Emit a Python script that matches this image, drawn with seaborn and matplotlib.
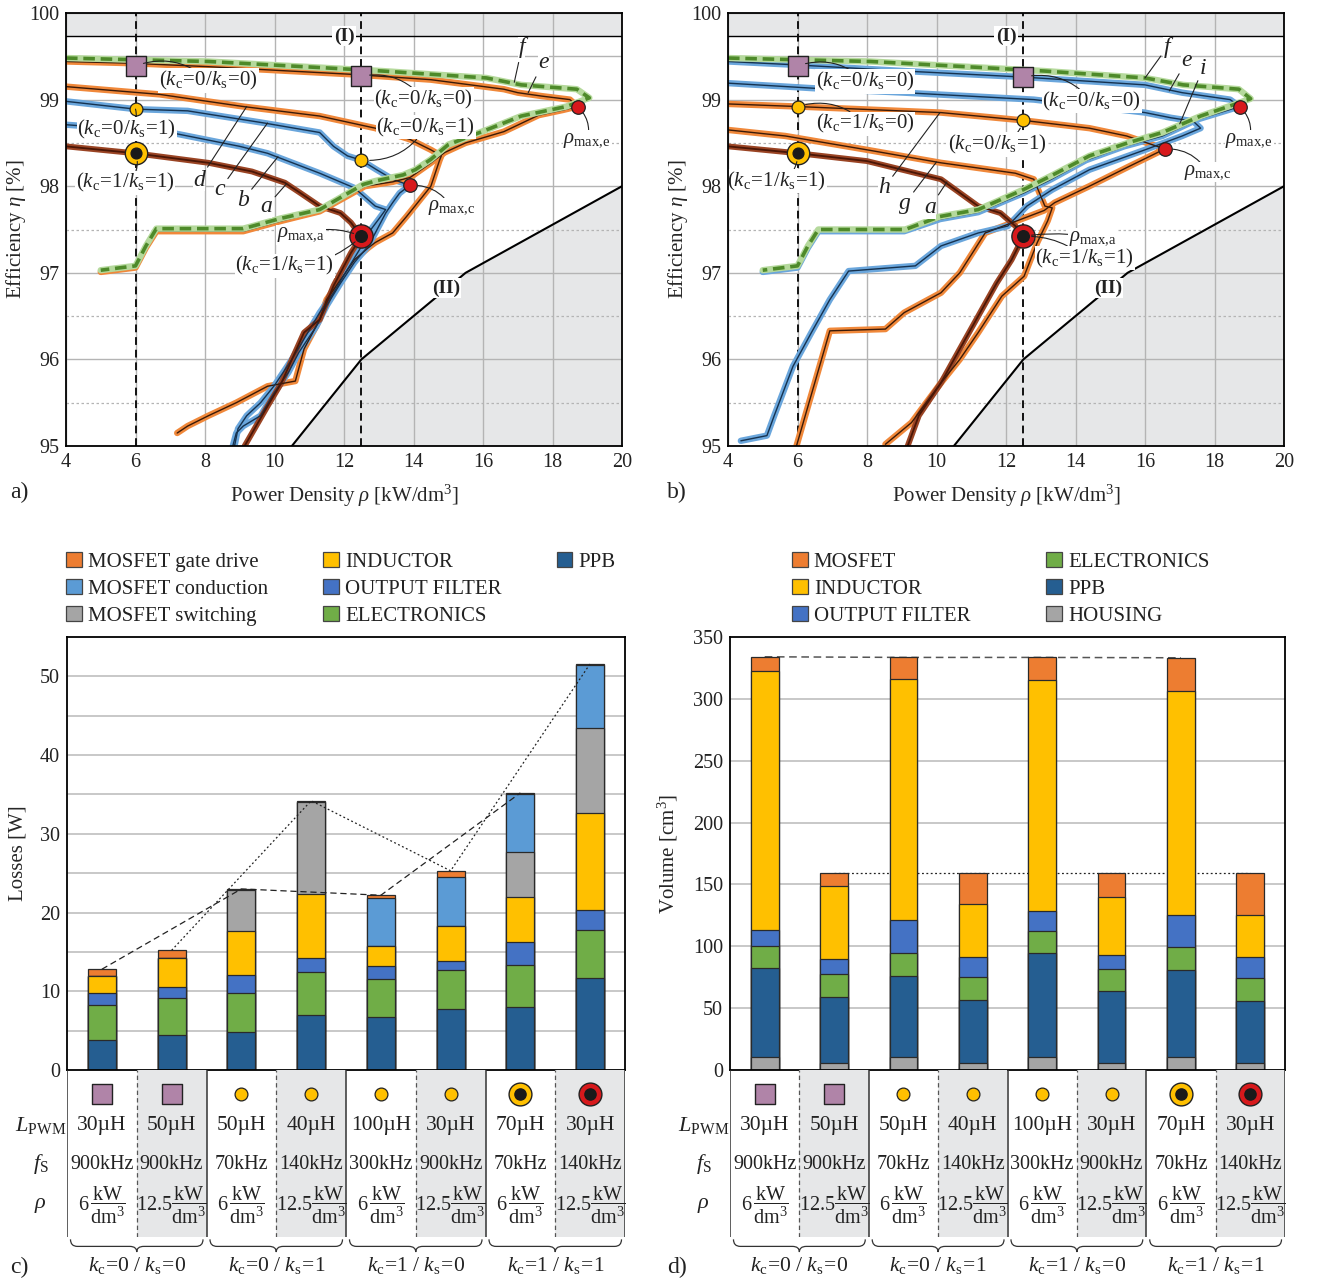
import numpy as np
import pandas as pd
import matplotlib
matplotlib.use("Agg")
import matplotlib.pyplot as plt
import seaborn as sns
from matplotlib.patches import Patch, Polygon, PathPatch
from matplotlib.path import Path

# ---------------------------------------------------------------- data
# Pareto fronts, panel a): power density rho [kW/dm^3] vs efficiency eta [%]
a_f_rho = [4.0, 6.0, 8.1, 11.3, 13.1, 16.1, 17.1, 18.7, 19.06, 18.4, 17.1, 16.1, 15.0, 14.5, 14.05, 13.7, 12.9, 12.55, 11.3, 10.2, 9.1, 6.6, 6.3, 6.0, 5.0]
a_f_eta = [99.48, 99.46, 99.44, 99.37, 99.33, 99.25, 99.17, 99.12, 99.02, 98.92, 98.81, 98.65, 98.48, 98.31, 98.19, 98.13, 98.06, 98.02, 97.73, 97.63, 97.51, 97.51, 97.31, 97.08, 97.03]
a_e_rho = [4.0, 5.9, 8.1, 12.3, 14.5, 16.6, 17.0, 17.7, 18.5, 18.72, 18.3, 17.6, 16.6, 15.5, 14.9, 14.5, 13.9, 13.4, 12.6, 11.3, 10.2, 9.1, 6.6, 6.3, 6.0, 5.0]
a_e_eta = [99.44, 99.42, 99.38, 99.29, 99.23, 99.12, 99.08, 99.04, 99.0, 98.92, 98.88, 98.82, 98.63, 98.5, 98.39, 98.27, 98.1, 98.05, 98.0, 97.71, 97.6, 97.48, 97.48, 97.29, 97.06, 97.01]
a_d_rho = [4.0, 6.7, 9.1, 11.3, 12.9, 13.9, 14.5, 14.8, 14.75, 14.5, 14.2, 13.8, 13.4, 12.9, 12.7, 12.3, 11.5, 11.3, 10.85, 10.6, 9.8, 8.9, 8.1, 7.5, 7.2]
a_d_eta = [99.15, 99.06, 98.92, 98.81, 98.67, 98.54, 98.42, 98.35, 98.3, 98.0, 97.85, 97.65, 97.46, 97.35, 97.29, 97.15, 96.69, 96.46, 96.12, 95.75, 95.69, 95.5, 95.35, 95.23, 95.15]
a_c_rho = [4.0, 6.0, 7.5, 9.7, 11.3, 11.7, 12.1, 12.5, 12.9, 13.4, 13.89, 13.6, 13.4, 13.2, 12.9, 12.7, 12.3, 11.9, 11.5, 11.2, 10.7, 10.4, 10.0, 9.6, 9.1, 8.9, 8.8]
a_c_eta = [98.98, 98.89, 98.87, 98.73, 98.62, 98.46, 98.35, 98.30, 98.2, 98.08, 98.01, 97.92, 97.81, 97.69, 97.46, 97.31, 97.12, 96.88, 96.62, 96.38, 96.08, 95.85, 95.62, 95.35, 95.23, 95.15, 95.0]
a_b_rho = [4.0, 7.0, 9.0, 9.8, 11.3, 12.3, 12.9, 13.2, 13.0, 12.7, 12.45, 12.1, 11.7, 11.3, 10.9, 10.5, 10.0, 9.6, 9.2, 8.95, 8.85]
a_b_eta = [98.71, 98.62, 98.46, 98.38, 98.15, 97.98, 97.77, 97.73, 97.62, 97.46, 97.27, 97.04, 96.77, 96.54, 96.27, 96.0, 95.7, 95.5, 95.35, 95.2, 95.0]
a_a_rho = [4.0, 6.0, 8.1, 9.35, 10.3, 10.75, 11.3, 11.9, 12.2, 12.5, 12.2, 11.7, 11.3, 10.85, 10.2, 9.8, 9.14]
a_a_eta = [98.46, 98.38, 98.27, 98.17, 98.04, 97.92, 97.77, 97.69, 97.58, 97.42, 97.23, 96.85, 96.46, 96.31, 95.73, 95.46, 95.0]

# Pareto fronts, panel b)
b_f_rho = [4.0, 6.0, 8.1, 11.3, 13.1, 16.0, 17.1, 18.7, 19.04, 18.4, 17.6, 16.5, 15.5, 14.4, 13.3, 12.5, 11.2, 10.1, 9.1, 6.6, 6.3, 6.0, 5.0]
b_f_eta = [99.48, 99.46, 99.44, 99.37, 99.33, 99.25, 99.17, 99.12, 99.01, 98.92, 98.81, 98.62, 98.5, 98.35, 98.12, 97.96, 97.73, 97.65, 97.5, 97.5, 97.31, 97.08, 97.03]
b_e_rho = [4.0, 6.0, 9.07, 12.5, 16.0, 17.07, 18.45, 18.72, 18.4, 17.5, 16.5, 15.4, 14.3, 13.3, 12.5, 11.2, 10.1, 9.07, 6.6, 6.3, 6.0, 5.0]
b_e_eta = [99.44, 99.40, 99.33, 99.26, 99.17, 99.08, 99.0, 98.92, 98.88, 98.77, 98.58, 98.46, 98.3, 98.08, 97.92, 97.7, 97.62, 97.48, 97.48, 97.29, 97.06, 97.01]
b_i_rho = [4.0, 6.93, 9.07, 12.8, 16.0, 16.75, 17.39, 17.6, 17.07, 16.0, 14.4, 13.33, 12.6, 12.05, 11.2, 10.13, 9.39, 7.47, 6.93, 6.4, 5.87, 5.33, 5.12, 4.37]
b_i_eta = [99.19, 99.12, 99.08, 99.0, 98.85, 98.79, 98.75, 98.67, 98.58, 98.42, 98.19, 97.96, 97.77, 97.54, 97.46, 97.31, 97.08, 97.02, 96.69, 96.31, 95.92, 95.35, 95.12, 95.06]
b_h_rho = [4.0, 6.0, 10.13, 12.5, 14.4, 15.47, 16.57, 15.5, 14.4, 13.4, 13.1, 11.4, 11.1, 10.67, 10.13, 9.07, 8.53, 6.93, 5.97]
b_h_eta = [98.95, 98.92, 98.85, 98.76, 98.67, 98.58, 98.43, 98.22, 98.0, 97.81, 97.72, 97.46, 97.27, 97.0, 96.77, 96.54, 96.35, 96.33, 95.0]
b_g_rho = [4.0, 5.65, 8.0, 10.13, 12.27, 12.8, 13.12, 13.33, 13.2, 12.9, 12.52, 11.88, 11.2, 10.67, 10.13, 9.28, 8.53]
b_g_eta = [98.65, 98.58, 98.42, 98.27, 98.15, 98.08, 97.77, 97.75, 97.6, 97.35, 96.96, 96.73, 96.31, 96.0, 95.73, 95.27, 95.02]
b_a_rho = [4.0, 6.03, 8.0, 10.13, 11.2, 11.84, 12.27, 12.5, 12.16, 11.73, 11.2, 10.67, 10.13, 9.49, 9.17]
b_a_eta = [98.46, 98.38, 98.29, 98.08, 97.77, 97.69, 97.54, 97.42, 97.15, 96.88, 96.5, 96.12, 95.73, 95.35, 95.0]

# infeasible region (II) boundary
lim_rho = [10.5, 12.5, 15.5, 20.0]
lim_eta = [95.0, 96.0, 97.0, 98.0]
eta_limit_I = 99.73

# selected design points (rho, eta)
a_pts = {"sq": [(6.0, 99.39), (12.5, 99.27)], "yc": [(6.0, 98.89), (12.5, 98.30)],
         "yring": (6.0, 98.38), "rring": (12.5, 97.42), "rd": [(13.89, 98.01), (18.72, 98.92)]}
b_pts = {"sq": [(6.0, 99.39), (12.5, 99.26)], "yc": [(6.0, 98.92), (12.5, 98.76)],
         "yring": (6.0, 98.38), "rring": (12.5, 97.42), "rd": [(16.57, 98.43), (18.72, 98.92)]}

# losses [W] per design (8 designs)
loss_labels = ["MOSFET gate drive", "MOSFET conduction", "MOSFET switching",
               "INDUCTOR", "OUTPUT FILTER", "ELECTRONICS", "PPB"]
loss_gate = [0.9, 1.0, 0.1, 0.2, 0.3, 0.8, 0.1, 0.2]
loss_cond = [0.0, 0.0, 0.0, 0.0, 6.1, 6.2, 7.4, 7.9]
loss_sw = [0.0, 0.0, 5.3, 11.7, 0.0, 0.0, 5.7, 10.9]
loss_ind = [2.1, 3.7, 5.5, 8.1, 2.6, 4.4, 5.8, 12.3]
loss_of = [1.5, 1.4, 2.3, 1.7, 1.7, 1.15, 2.8, 2.5]
loss_el = [4.5, 4.6, 5.0, 5.5, 4.8, 4.95, 5.4, 6.1]
loss_ppb = [3.8, 4.5, 4.8, 7.0, 6.7, 7.8, 8.0, 11.7]

# volumes [cm^3] per design
vol_labels = ["MOSFET", "INDUCTOR", "OUTPUT FILTER", "ELECTRONICS", "PPB", "HOUSING"]
vol_mos = [11.4, 11.1, 17.3, 25.6, 18.4, 19.5, 26.7, 34.6]
vol_ind = [209.1, 58.6, 195.2, 42.4, 186.8, 47.1, 181.6, 33.4]
vol_of = [13.1, 12.3, 26.2, 16.2, 15.6, 10.9, 25.3, 16.8]
vol_el = [17.9, 18.4, 18.7, 19.0, 18.4, 18.4, 19.0, 19.2]
vol_ppb = [71.9, 53.5, 65.5, 50.7, 83.7, 58.0, 70.0, 49.9]
vol_hous = [10.6, 5.6, 10.6, 5.6, 10.6, 5.6, 10.6, 5.6]

# design table
design_marker = ["sq", "sq", "yc", "yc", "yc", "yc", "yring", "rring"]
L_pwm = ["30µH", "50µH", "50µH", "40µH", "100µH", "30µH", "70µH", "30µH"]
f_sw = ["900kHz", "900kHz", "70kHz", "140kHz", "300kHz", "900kHz", "70kHz", "140kHz"]
rho_design = ["6", "12.5", "6", "12.5", "6", "12.5", "6", "12.5"]
groups = [("0", "0"), ("0", "1"), ("1", "0"), ("1", "1")]

# ---------------------------------------------------------------- style
sns.set_theme(style="white")
plt.rcParams.update({
    "font.family": ["Liberation Serif", "DejaVu Serif"],
    "mathtext.fontset": "custom",
    "mathtext.rm": "Liberation Serif",
    "mathtext.it": "Liberation Serif:italic",
    "mathtext.bf": "Liberation Serif:bold",
    "axes.edgecolor": "black",
    "axes.linewidth": 1.3,
    "text.color": "#222222",
    "xtick.color": "#222222",
    "ytick.color": "#222222",
})

C_OR = "#ED7D31"; C_YE = "#FFC000"; C_BL = "#4472C4"; C_GR = "#70AD47"
C_DB = "#255E91"; C_LB = "#5B9BD5"; C_GY = "#A5A5A5"
C_SQ = "#B084A8"; C_RED = "#D7191C"; C_SHADE = "#E6E7E8"
TXT = 15

W, H = 1319, 1284
fig = plt.figure(figsize=(W / 100, H / 100), dpi=100)


def rect(l, t, r, b):
    return [l / W, 1 - b / H, (r - l) / W, (b - t) / H]


ax_a = fig.add_axes(rect(66, 13, 622, 446))
ax_b = fig.add_axes(rect(728, 13, 1284, 446))
ax_c = fig.add_axes(rect(67, 637, 625, 1070))
ax_d = fig.add_axes(rect(730, 637, 1285, 1070))
tab_c = fig.add_axes(rect(67, 1070, 625, 1237))
tab_d = fig.add_axes(rect(730, 1070, 1285, 1237))
brc_c = fig.add_axes(rect(67, 1237, 625, 1284))
brc_d = fig.add_axes(rect(730, 1237, 1285, 1284))

STYLES = {
    "orange": ("#F0883A", "#3A1A08", 4.6, 1.0),
    "blue": ("#6AA6DC", "#16324F", 4.6, 1.0),
    "brown": ("#9A4424", "#4A1606", 4.2, 1.3),
}


def front(ax, rho, eta, kind, z=3):
    df = pd.DataFrame({"rho": rho, "eta": eta})
    if kind == "green":
        sns.lineplot(data=df, x="rho", y="eta", sort=False, estimator=None, ax=ax,
                     color="#B5D99C", lw=4.6, zorder=z)
        sns.lineplot(data=df, x="rho", y="eta", sort=False, estimator=None, ax=ax,
                     color="#4E8A2A", lw=2.6, linestyle=(0, (3.2, 1.6)), zorder=z + 0.1)
        return
    halo, core, lw, lwc = STYLES[kind]
    sns.lineplot(data=df, x="rho", y="eta", sort=False, estimator=None, ax=ax,
                 color=halo, lw=lw, zorder=z)
    sns.lineplot(data=df, x="rho", y="eta", sort=False, estimator=None, ax=ax,
                 color=core, lw=lwc, zorder=z + 0.1)


def eff_axes(ax):
    ax.set_xlim(4, 20)
    ax.set_ylim(95, 100)
    ax.set_xticks(range(4, 21, 2))
    ax.set_yticks(range(95, 101))
    ax.set_axisbelow(True)
    ax.grid(which="major", color="#B4B4B4", lw=1.0)
    for yv in [95.5, 96.5, 97.5, 98.5]:
        ax.axhline(yv, color="#B4B4B4", lw=0.9, ls=(0, (2, 2)), zorder=0.5)
    ax.axhline(99.5, color="#B4B4B4", lw=1.0, zorder=0.5)
    ax.tick_params(length=0, labelsize=14.5, pad=5)
    ax.axhspan(eta_limit_I, 100, color=C_SHADE, zorder=0.3, lw=0)
    ax.axhline(eta_limit_I, color="black", lw=1.0, zorder=1)
    poly = list(zip(lim_rho, lim_eta)) + [(20, 95)]
    ax.add_patch(Polygon(poly, closed=True, fc=C_SHADE, ec="none", zorder=0.3))
    ax.plot(lim_rho, lim_eta, color="black", lw=1.5, zorder=1.2)
    for xv in (6, 12.5):
        ax.axvline(xv, color="#111111", lw=1.4, ls=(0, (4, 2.5)), zorder=2)
    ax.set_xlabel(r"Power Density $\rho$ [kW/dm$^3$]", fontsize=TXT, labelpad=8)
    ax.set_ylabel(r"Efficiency $\eta$ [%]", fontsize=TXT)
    ax.yaxis.set_label_coords(-0.068, 0.5)
    for s in ax.spines.values():
        s.set_color("black")
        s.set_linewidth(1.3)
        s.set_zorder(10)
    ax.text(12.0, eta_limit_I, "(I)", fontsize=14, fontweight="bold", ha="center", va="center",
            bbox=dict(fc="white", ec="none", pad=1.0), zorder=4)
    ax.text(14.93, 96.82, "(II)", fontsize=14, fontweight="bold", ha="center", va="center",
            bbox=dict(fc="white", ec="none", pad=1.0), zorder=4)


def points(ax, p):
    for x, y in p["sq"]:
        ax.scatter([x], [y], s=190, marker="s", c=C_SQ, edgecolors="#222", linewidths=1.0, zorder=6)
    for x, y in p["yc"]:
        ax.scatter([x], [y], s=85, marker="o", c=C_YE, edgecolors="#222", linewidths=0.9, zorder=6)
    for x, y in p["rd"]:
        ax.scatter([x], [y], s=95, marker="o", c=C_RED, edgecolors="#222", linewidths=0.9, zorder=6)
    x, y = p["yring"]
    ax.scatter([x], [y], s=260, marker="o", c=C_YE, edgecolors="#222", linewidths=1.0, zorder=6)
    ax.scatter([x], [y], s=60, marker="o", c="#1a1a1a", zorder=7)
    x, y = p["rring"]
    ax.scatter([x], [y], s=280, marker="o", c=C_RED, edgecolors="#222", linewidths=1.0, zorder=6)
    ax.scatter([x], [y], s=70, marker="o", c="#1a1a1a", zorder=7)


def kk(c, s):
    return r"$(k_{\rm c}\!=\!%s/k_{\rm s}\!=\!%s)$" % (c, s)


def rmax(s):
    return r"$\rho_{\rm max,\!%s}$" % s


def note(ax, txt, xy, xyt, rad=0.3, fs=TXT):
    ax.annotate(txt, xy=xy, xytext=xyt, fontsize=fs, ha="center", va="center", zorder=8,
                bbox=dict(fc="white", ec="none", pad=0.5),
                arrowprops=dict(arrowstyle="-", color="#222", lw=0.8, shrinkA=0, shrinkB=6,
                                connectionstyle="arc3,rad=%s" % rad))


def letter(ax, ch, xy, xyt):
    ax.annotate(ch, xy=xy, xytext=xyt, fontsize=17, style="italic", ha="center", va="center",
                zorder=8, bbox=dict(fc="white", ec="none", pad=0.2),
                arrowprops=dict(arrowstyle="-", color="#222", lw=0.8, shrinkA=3, shrinkB=0))


# ---------------------------------------------------------------- a)
eff_axes(ax_a)
front(ax_a, a_d_rho, a_d_eta, "orange")
front(ax_a, a_b_rho, a_b_eta, "blue")
front(ax_a, a_c_rho, a_c_eta, "blue")
front(ax_a, a_a_rho, a_a_eta, "brown")
front(ax_a, a_e_rho, a_e_eta, "orange")
front(ax_a, a_f_rho, a_f_eta, "green", z=3.5)
points(ax_a, a_pts)
note(ax_a, kk(0, 0), (6.0, 99.39), (8.1, 99.22), rad=0.3)
note(ax_a, kk(0, 0), (12.5, 99.27), (14.3, 99.0), rad=0.3)
note(ax_a, kk(0, 1), (6.0, 98.89), (5.75, 98.66), rad=0.4)
note(ax_a, kk(0, 1), (12.5, 98.30), (14.35, 98.68), rad=-0.3)
note(ax_a, kk(1, 1), (6.0, 98.38), (5.7, 98.04), rad=0.4)
note(ax_a, kk(1, 1), (12.5, 97.42), (10.3, 97.08), rad=0.2)
note(ax_a, rmax("a"), (12.5, 97.42), (10.76, 97.44), rad=-0.2)
note(ax_a, rmax("c"), (13.89, 98.01), (15.1, 97.75), rad=0.3)
note(ax_a, rmax("e"), (18.72, 98.92), (19.0, 98.53), rad=0.3)
letter(ax_a, "f", (16.9, 99.2), (17.12, 99.6))
letter(ax_a, "e", (17.3, 99.08), (17.73, 99.43))
letter(ax_a, "d", (9.2, 98.92), (7.83, 98.07))
letter(ax_a, "c", (9.8, 98.73), (8.43, 97.96))
letter(ax_a, "b", (10.1, 98.34), (9.09, 97.84))
letter(ax_a, "a", (10.35, 98.03), (9.76, 97.76))
fig.text(10 / W, 1 - 492 / H, "a)", fontsize=17, va="center")

# ---------------------------------------------------------------- b)
eff_axes(ax_b)
front(ax_b, b_g_rho, b_g_eta, "orange")
front(ax_b, b_h_rho, b_h_eta, "orange")
front(ax_b, b_i_rho, b_i_eta, "blue")
front(ax_b, b_a_rho, b_a_eta, "brown")
front(ax_b, b_e_rho, b_e_eta, "blue")
front(ax_b, b_f_rho, b_f_eta, "green", z=3.5)
points(ax_b, b_pts)
note(ax_b, kk(0, 0), (6.0, 99.39), (7.95, 99.21), rad=0.3)
note(ax_b, kk(0, 0), (12.5, 99.26), (14.47, 98.98), rad=0.3)
note(ax_b, kk(1, 0), (6.0, 98.92), (7.95, 98.72), rad=0.3)
note(ax_b, kk(0, 1), (12.5, 98.76), (11.75, 98.48), rad=0.3)
note(ax_b, kk(1, 1), (6.0, 98.38), (5.4, 98.06), rad=0.4)
note(ax_b, kk(1, 1), (12.5, 97.42), (14.27, 97.17), rad=0.2)
note(ax_b, rmax("a"), (12.5, 97.42), (14.5, 97.4), rad=0.1)
note(ax_b, rmax("c"), (16.57, 98.43), (17.8, 98.16), rad=0.3)
note(ax_b, rmax("e"), (18.72, 98.92), (19.0, 98.53), rad=0.3)
letter(ax_b, "f", (16.0, 99.25), (16.63, 99.6))
letter(ax_b, "e", (16.7, 99.1), (17.2, 99.45))
letter(ax_b, "i", (17.0, 98.72), (17.67, 99.36))
letter(ax_b, "h", (10.1, 98.85), (8.49, 97.98))
letter(ax_b, "g", (10.0, 98.28), (9.09, 97.8))
letter(ax_b, "a", (10.3, 98.05), (9.81, 97.75))
fig.text(667 / W, 1 - 492 / H, "b)", fontsize=17, va="center")

# ---------------------------------------------------------------- stacked bars
pos = np.arange(8)


def stacked(ax, comps, width=0.4):
    cum = np.zeros(len(pos))
    tops = []
    for vals, col in comps:
        cum = cum + np.asarray(vals, dtype=float)
        tops.append((cum.copy(), col))
    for top, col in reversed(tops):
        sns.barplot(x=pos, y=top, color=col, width=width, saturation=1, errorbar=None,
                    edgecolor="#2a2a2a", linewidth=0.9, ax=ax, zorder=3)
    return cum


def bar_axes(ax, ymax, step, minor, label, lx):
    ax.set_xlim(-0.5, 7.5)
    ax.set_ylim(0, ymax)
    ax.set_yticks(np.arange(0, ymax + 0.1, step))
    for yv in np.arange(minor, ymax, minor):
        ax.axhline(yv, color="#C4C4C4", lw=1.3, zorder=0.5)
    ax.set_xticks([])
    ax.set_xlabel("")
    ax.set_ylabel(label, fontsize=TXT)
    ax.yaxis.set_label_coords(lx, 0.5)
    ax.tick_params(axis="y", length=0, labelsize=14.5, pad=5)
    for s in ax.spines.values():
        s.set_color("black")
        s.set_linewidth(1.3)
        s.set_zorder(10)


tot_c = stacked(ax_c, [(loss_ppb, C_DB), (loss_el, C_GR), (loss_of, C_BL), (loss_ind, C_YE),
                       (loss_sw, C_GY), (loss_cond, C_LB), (loss_gate, C_OR)])
bar_axes(ax_c, 55, 10, 5, "Losses [W]", -0.07)
ax_c.plot(pos[0::2], tot_c[0::2], color="#222", lw=0.9, ls=(0, (5, 3)), zorder=5)
ax_c.plot(pos[1::2], tot_c[1::2], color="#222", lw=0.9, ls=(0, (1.5, 2)), zorder=5)

tot_d = stacked(ax_d, [(vol_hous, C_GY), (vol_ppb, C_DB), (vol_el, C_GR), (vol_of, C_BL),
                       (vol_ind, C_YE), (vol_mos, C_OR)])
bar_axes(ax_d, 350, 50, 50, r"Volume [cm$^3$]", -0.09)
ax_d.plot(pos[0::2], tot_d[0::2], color="#555", lw=1.1, ls=(0, (5, 3)), zorder=2)
ax_d.plot(pos[1::2], tot_d[1::2], color="#222", lw=0.9, ls=(0, (1.5, 2)), zorder=2)

# legends
leg_kw = dict(loc="upper left", frameon=False, handlelength=0.75, handleheight=0.75,
              handletextpad=0.3, labelspacing=0.34, borderaxespad=0, borderpad=0,
              fontsize=TXT)
h_c = [Patch(fc=c, ec="#444", lw=0.9) for c in [C_OR, C_LB, C_GY, C_YE, C_BL, C_GR, C_DB]]
blank = Patch(visible=False)
fig.legend(h_c + [blank, blank], loss_labels + ["", ""], ncol=3, columnspacing=2.65,
           bbox_to_anchor=(66 / W, 1 - 552 / H), **leg_kw)
h_d = [Patch(fc=c, ec="#444", lw=0.9) for c in [C_OR, C_YE, C_BL, C_GR, C_DB, C_GY]]
fig.legend(h_d, vol_labels, ncol=2, columnspacing=3.65,
           bbox_to_anchor=(792 / W, 1 - 552 / H), **leg_kw)


# ---------------------------------------------------------------- design tables
def table(ax):
    ax.set_xlim(-0.5, 7.5)
    ax.set_ylim(0, 1)
    ax.axis("off")
    for i in range(1, 8, 2):
        ax.axvspan(i - 0.5, i + 0.5, color=C_SHADE, lw=0, zorder=0)
    for xv in (0.5, 2.5, 4.5, 6.5):
        ax.axvline(xv, color="#555", lw=0.9, ls=(0, (3.5, 2.5)), zorder=1)
    for xv in (-0.5, 1.5, 3.5, 5.5, 7.5):
        ax.axvline(xv, color="#333", lw=1.1, zorder=1)
    for i in range(8):
        m = design_marker[i]
        if m == "sq":
            ax.scatter([i], [0.856], s=200, marker="s", c=C_SQ, edgecolors="#222", lw=1.0, zorder=3)
        elif m == "yc":
            ax.scatter([i], [0.856], s=85, marker="o", c=C_YE, edgecolors="#222", lw=0.9, zorder=3)
        else:
            col = C_YE if m == "yring" else C_RED
            ax.scatter([i], [0.856], s=270, marker="o", c=col, edgecolors="#222", lw=1.0, zorder=3)
            ax.scatter([i], [0.856], s=65, marker="o", c="#1a1a1a", zorder=4)
        ax.text(i, 0.665, L_pwm[i], fontsize=15.5, ha="center", va="center")
        ax.text(i, 0.437, f_sw[i], fontsize=14.5, ha="center", va="center")
        sep = r"\," if rho_design[i] == "6" else ""
        ax.text(i, 0.19, r"$%s%s\dfrac{\mathrm{kW}}{\mathrm{dm}^3}$" % (rho_design[i], sep),
                fontsize=14.5, ha="center", va="center")
    ax.text(-0.88, 0.665, r"$L_{\rm PWM}$", fontsize=16, ha="center", va="center", clip_on=False)
    ax.text(-0.88, 0.437, r"$f_{\rm S}$", fontsize=16, ha="center", va="center", clip_on=False)
    ax.text(-0.88, 0.19, r"$\rho$", fontsize=16, ha="center", va="center", clip_on=False)


def braces(ax):
    ax.set_xlim(-0.5, 7.5)
    ax.set_ylim(0, 1)
    ax.axis("off")
    yt, yh, yb, r = 0.95, 0.80, 0.68, 0.1
    for g, (c, s) in enumerate(groups):
        x0, x1 = 2 * g - 0.45, 2 * g + 1.45
        xm = 0.5 * (x0 + x1)
        verts = [(x0, yt), (x0, yh), (x0 + r, yh), (xm - r, yh), (xm, yh), (xm, yb),
                 (xm, yh), (xm + r, yh), (x1 - r, yh), (x1, yh), (x1, yt)]
        codes = [Path.MOVETO, Path.CURVE3, Path.CURVE3, Path.LINETO, Path.CURVE3, Path.CURVE3,
                 Path.CURVE3, Path.CURVE3, Path.LINETO, Path.CURVE3, Path.CURVE3]
        ax.add_patch(PathPatch(Path(verts, codes), fc="none", ec="#333", lw=0.9))
        ax.text(xm, 0.40, r"$k_{\rm c}\!=\!%s\ /\ k_{\rm s}\!=\!%s$" % (c, s),
                fontsize=15.5, ha="center", va="center")


table(tab_c)
table(tab_d)
braces(brc_c)
braces(brc_d)
fig.text(10 / W, 1 - 1267 / H, "c)", fontsize=17, va="center")
fig.text(667 / W, 1 - 1267 / H, "d)", fontsize=17, va="center")

fig.savefig("out.png", dpi=100)
